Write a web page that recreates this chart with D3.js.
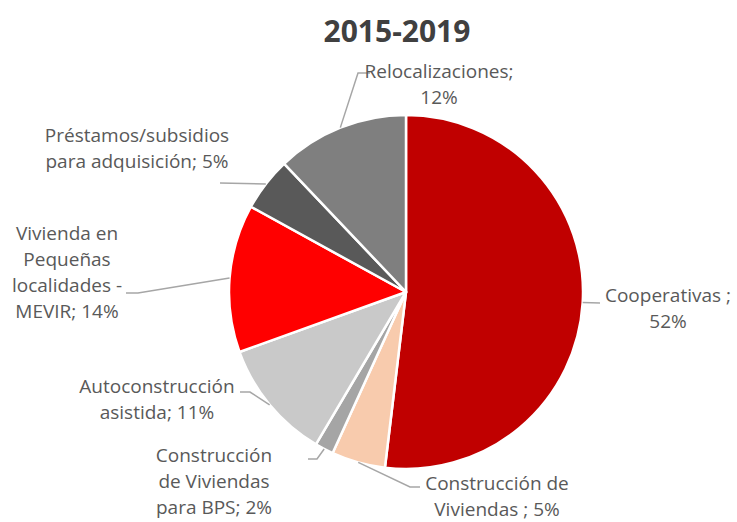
<!DOCTYPE html>
<html>
<head>
<meta charset="utf-8">
<script src="https://cdn.jsdelivr.net/npm/d3@7"></script>
<style>
  body { margin: 0; background: #fff; }
  svg { display: block; }
</style>
</head>
<body>
<svg id="chart" width="737" height="522"></svg>
<script>
// Data
const categories = [
    "Cooperativas",
    "Construcción de Viviendas",
    "Construcción de Viviendas para BPS",
    "Autoconstrucción asistida",
    "Vivienda en Pequeñas localidades - MEVIR",
    "Préstamos/subsidios para adquisición",
    "Relocalizaciones"
];
const values = [51.9, 4.9, 1.7, 11.0, 13.5, 4.9, 12.1];
const colors = ["#C00000", "#F8CBAD", "#A5A5A5", "#C9C9C9", "#FF0000", "#595959", "#7F7F7F"];

// label lines as they wrap in the picture (percent added from the values)
const labelLines = [
    ["Cooperativas ;", "{p}"],
    ["Construcción de", "Viviendas ; {p}"],
    ["Construcción", "de Viviendas", "para BPS; {p}"],
    ["Autoconstrucción", "asistida; {p}"],
    ["Vivienda en", "Pequeñas", "localidades -", "MEVIR; {p}"],
    ["Préstamos/subsidios", "para adquisición; {p}"],
    ["Relocalizaciones;", "{p}"]
];

// layout: label centre x, first baseline, leader elbow and end
const labelLayout = [
    { x: 668, y: 302, elbow: [600, 303], end: [600, 303] },
    { x: 497, y: 490, elbow: [410, 487], end: [420, 487] },
    { x: 214, y: 462, elbow: [317, 459], end: [308, 459] },
    { x: 157, y: 393, elbow: [250, 392], end: [240, 392] },
    { x: 67,  y: 240, elbow: [138, 293], end: [126, 293] },
    { x: 137, y: 142, elbow: [220, 183], end: [220, 183] },
    { x: 439, y: 78,  elbow: [358, 73],  end: [370, 73] }
];

const width = 737;
const height = 522;
const cx = 406, cy = 292, radius = 177;
const lineHeight = 26;

const svg = d3.select("#chart");

// Title
svg.append("text")
    .attr("x", 397)
    .attr("y", 42)
    .attr("text-anchor", "middle")
    .style("font-family", "'Open Sans', sans-serif")
    .style("font-weight", "bold")
    .style("font-size", "30px")
    .style("fill", "#404040")
    .text("2015-2019");

const total = d3.sum(values);
const pie = d3.pie().sort(null).value(d => d);
const arcs = pie(values);

const arc = d3.arc().innerRadius(0).outerRadius(radius);

const g = svg.append("g").attr("transform", `translate(${cx},${cy})`);

g.selectAll("path.slice")
    .data(arcs)
    .enter().append("path")
    .attr("class", "slice")
    .attr("d", arc)
    .attr("fill", (d, i) => colors[i])
    .attr("stroke", "#fff")
    .attr("stroke-width", 2.5)
    .attr("stroke-linejoin", "round");

// Leader lines
arcs.forEach((d, i) => {
    const mid = (d.startAngle + d.endAngle) / 2;
    const sx = cx + radius * Math.sin(mid);
    const sy = cy - radius * Math.cos(mid);
    const L = labelLayout[i];
    svg.append("polyline")
        .attr("points", [[sx, sy], L.elbow, L.end].map(p => p.join(",")).join(" "))
        .attr("fill", "none")
        .attr("stroke", "#A6A6A6")
        .attr("stroke-width", 1.5);
});

// Labels
arcs.forEach((d, i) => {
    const pct = Math.round(d.value / total * 100) + "%";
    const L = labelLayout[i];
    const t = svg.append("text")
        .attr("text-anchor", "middle")
        .style("font-family", "'Open Sans', sans-serif")
        .style("font-size", "19px")
        .style("fill", "#595959");
    labelLines[i].forEach((line, j) => {
        t.append("tspan")
            .attr("x", L.x)
            .attr("y", L.y + j * lineHeight)
            .text(line.replace("{p}", pct));
    });
});
</script>
</body>
</html>
